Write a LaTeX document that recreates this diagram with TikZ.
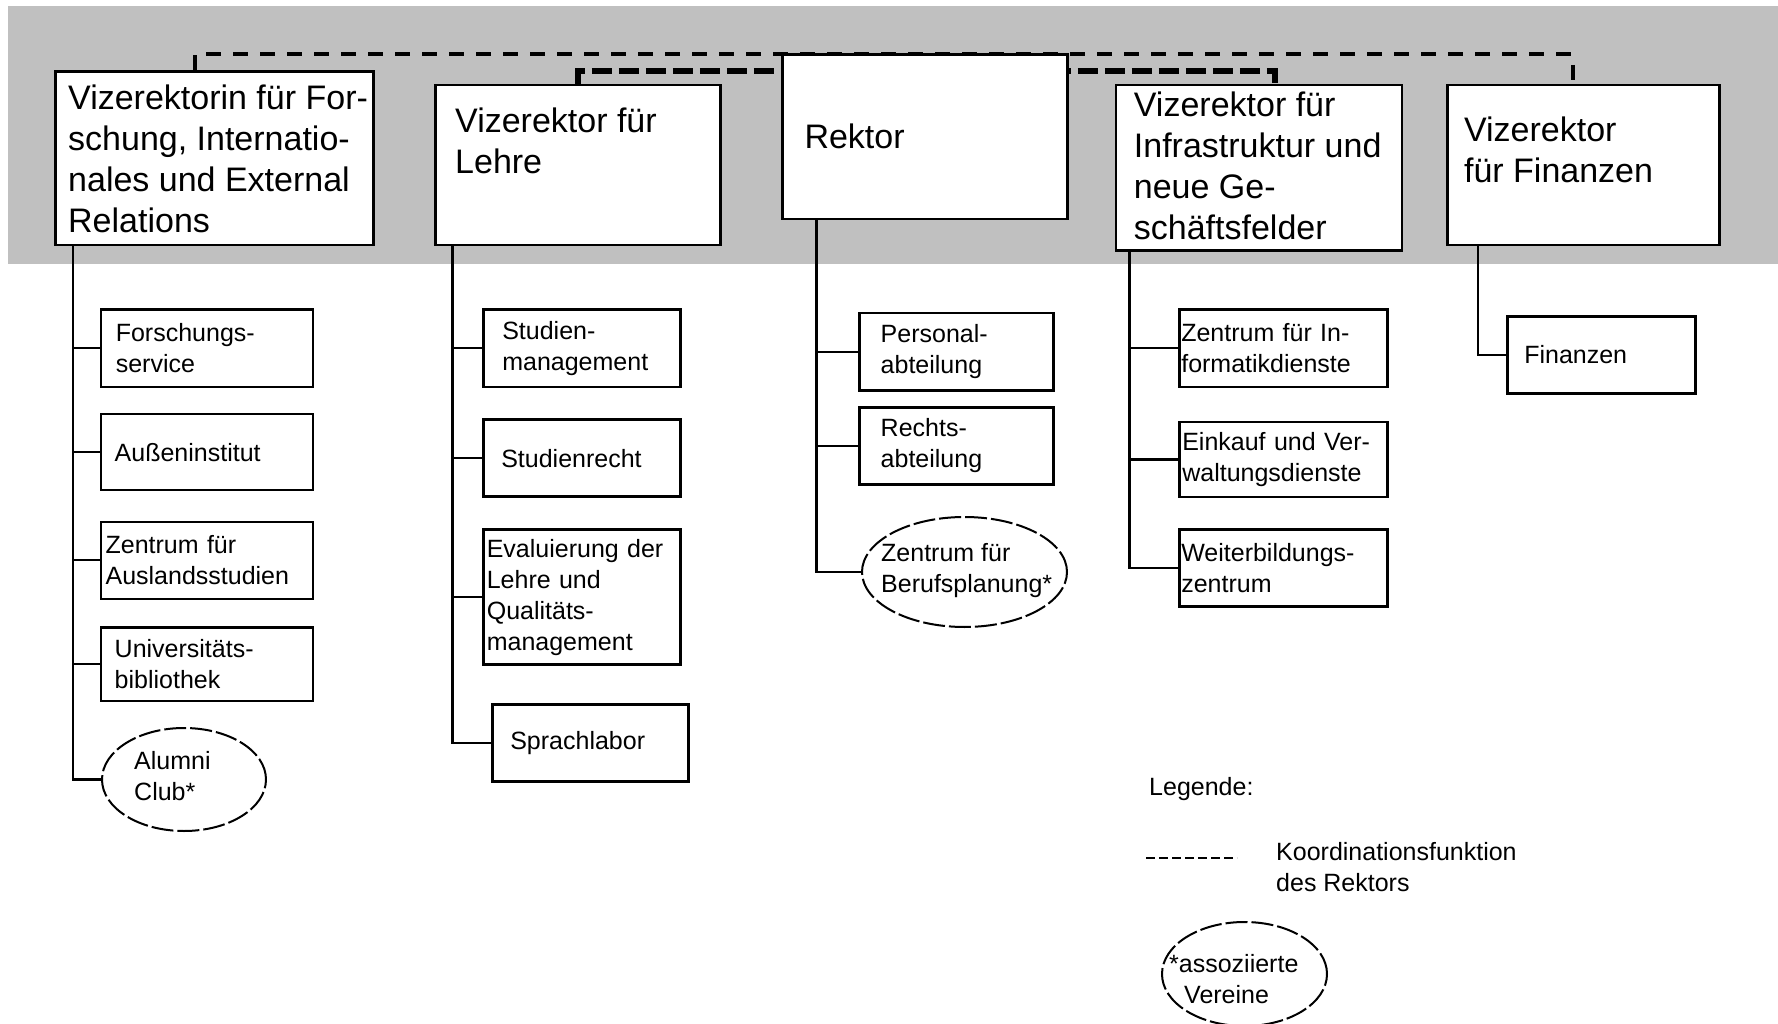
\documentclass[tikz,border=0pt]{standalone}
\usepackage{fontspec}
\setmainfont{Liberation Sans}
\usetikzlibrary{shapes.geometric}
\definecolor{silver}{HTML}{C0C0C0}

\begin{document}
\begin{tikzpicture}[x=1pt,y=-1pt,
  band/.style={fill=silver},
  topbox/.style={draw, line width=2.6pt, fill=white, anchor=north west, inner sep=0pt},
  toptext/.style={anchor=north west, inner sep=0pt, align=left, font=\fontsize{34}{41}\selectfont},
  unitbox/.style={draw, line width=2.6pt, fill=white, anchor=north west, inner ysep=0pt,
                  align=left, font=\fontsize{25}{31}\selectfont},
  assoc/.style={draw, ellipse, line width=2pt, dash pattern=on 22pt off 4pt, fill=white, inner sep=0pt},
  assoctext/.style={anchor=west, inner sep=0pt, align=left, font=\fontsize{25}{31}\selectfont},
  legtext/.style={anchor=west, inner sep=0pt, align=left, font=\fontsize{25}{31}\selectfont},
  conn/.style={line width=2.2pt},
  coordouter/.style={line width=4pt, dash pattern=on 15pt off 12pt},
  coordinner/.style={line width=6pt, dash pattern=on 20pt off 7pt},
  legdash/.style={line width=2.4pt, dash pattern=on 9pt off 4pt}
]
\useasboundingbox (0,0) rectangle (1778,1024);
\fill[white] (0,0) rectangle (1778,1024);
\fill[band] (8,6) rectangle (1778,264);

% management level
\node[topbox, minimum width=317.6, minimum height=173.5] (A) at (54.4,70.3) {};
\node[topbox, minimum width=284.6, minimum height=159.9] (B) at (434.3,83.9) {};
\node[topbox, minimum width=285.8, minimum height=165.6] (C) at (1114.7,83.9) {};
\node[topbox, minimum width=272.2, minimum height=159.9] (D) at (1445.9,83.9) {};

% coordination lines of the rector (behind the rector box)
\draw[coordouter] ([xshift=141pt]A.north west) -- ++(0,-16) -| ([xshift=127pt]D.north west);
\draw[coordinner] (B.north) -- ++(0,-13) -| ([xshift=160pt]C.north west);

\node[topbox, minimum width=284.6, minimum height=164.4] (R) at (781.3,53.3) {};

\node[toptext] (A-t) at ([xshift=13.6pt,yshift=-14pt]A.north west)
  {Vizerektorin für For-\\schung, Internatio-\\nales und External\\Relations};
\node[toptext] (B-t) at ([xshift=20.7pt,yshift=-24pt]B.north west) {Vizerektor für\\Lehre};
\node[toptext] (R-t) at ([xshift=23pt,yshift=-70pt]R.north west) {Rektor};
\node[toptext] (C-t) at ([xshift=19pt,yshift=-7.5pt]C.north west)
  {Vizerektor für\\Infrastruktur und\\neue Ge-\\schäftsfelder};
\node[toptext] (D-t) at ([xshift=18pt,yshift=-33pt]D.north west) {Vizerektor\\für Finanzen};

% units
\node[unitbox, minimum width=212, minimum height=77, inner xsep=14.7pt, text width=182.6pt] (fs) at (99.8,308.5) {Forschungs-\\service};
\node[unitbox, minimum width=212, minimum height=76, inner xsep=13.6pt, text width=184.8pt] (ai) at (99.8,412.8) {Außeninstitut};
\node[unitbox, minimum width=212, minimum height=77, inner xsep=4.5pt, text width=203pt] (za) at (99.8,520.5) {Zentrum für\\Auslandsstudien};
\node[unitbox, minimum width=212, minimum height=73.7, inner xsep=13.6pt, text width=184.8pt] (ub) at (99.8,626) {Universitäts-\\bibliothek};
\node[assoc, minimum width=164, minimum height=103] (alumni) at (184,779.5) {};
\node[assoctext] (alumni-t) at ([xshift=-50pt,yshift=3pt]alumni.center) {Alumni\\Club*};

\node[unitbox, minimum width=197, minimum height=77, inner xsep=19pt, text width=159pt] (sm) at (482,308.5) {Studien-\\management};
\node[unitbox, minimum width=197, minimum height=77, inner xsep=18pt, text width=161pt] (sr) at (482,418.4) {Studienrecht};
\node[unitbox, minimum width=197, minimum height=135, inner xsep=3.4pt, text width=190pt] (ev) at (482,528.4) {Evaluierung der\\Lehre und\\Qualitäts-\\management};
\node[unitbox, minimum width=196, minimum height=77, inner xsep=18pt, text width=160pt] (sl) at (491,703) {Sprachlabor};

\node[unitbox, minimum width=194, minimum height=77, inner xsep=21pt, text width=152pt] (pa) at (858.4,311.9) {Personal-\\abteilung};
\node[unitbox, minimum width=194, minimum height=77, inner xsep=21pt, text width=152pt] (ra) at (858.4,406) {Rechts-\\abteilung};
\node[assoc, minimum width=205, minimum height=110] (beruf) at (964.5,572) {};
\node[assoctext] (beruf-t) at ([xshift=-83.5pt,yshift=1pt]beruf.center) {Zentrum für\\Berufsplanung*};

\node[unitbox, minimum width=208, minimum height=77, inner xsep=2pt, text width=204pt] (zi) at (1178,308.5) {Zentrum für In-\\formatikdienste};
\node[unitbox, minimum width=208, minimum height=75, inner xsep=3pt, text width=202pt] (ek) at (1178,420.7) {Einkauf und Ver-\\waltungsdienste};
\node[unitbox, minimum width=208, minimum height=77, inner xsep=2pt, text width=204pt] (wb) at (1178,528.4) {Weiterbildungs-\\zentrum};

\node[unitbox, minimum width=188, minimum height=77, inner xsep=17pt, text width=154pt] (fi) at (1506,315) {Finanzen};

% reporting lines
\foreach \u in {fs,ai,za,ub,alumni} \draw[conn] ([xshift=18.2pt]A.south west) |- (\u.west);
\foreach \u in {sm,sr,ev,sl} \draw[conn] ([xshift=18.2pt]B.south west) |- (\u.west);
\foreach \u in {pa,ra,beruf} \draw[conn] ([xshift=35.2pt]R.south west) |- (\u.west);
\foreach \u in {zi,ek,wb} \draw[conn] ([xshift=14.8pt]C.south west) |- (\u.west);
\draw[conn] ([xshift=31.7pt]D.south west) |- (fi.west);

% legend
\node[legtext] (leg) at (1149,789) {Legende:};
\coordinate (ld1) at (1146,858);
\coordinate (ld2) at (1237,858);
\draw[legdash] (ld1) -- (ld2);
\node[legtext] (legc) at (1276,867.5) {Koordinationsfunktion\\des Rektors};
\node[assoc, minimum width=165, minimum height=104] (assoz) at (1244.5,974) {};
\node[assoctext] (assoz-t) at ([xshift=-75.5pt,yshift=-5pt]assoz.center) {*assoziierte\\\hspace*{15pt}Vereine};
\end{tikzpicture}
\end{document}
